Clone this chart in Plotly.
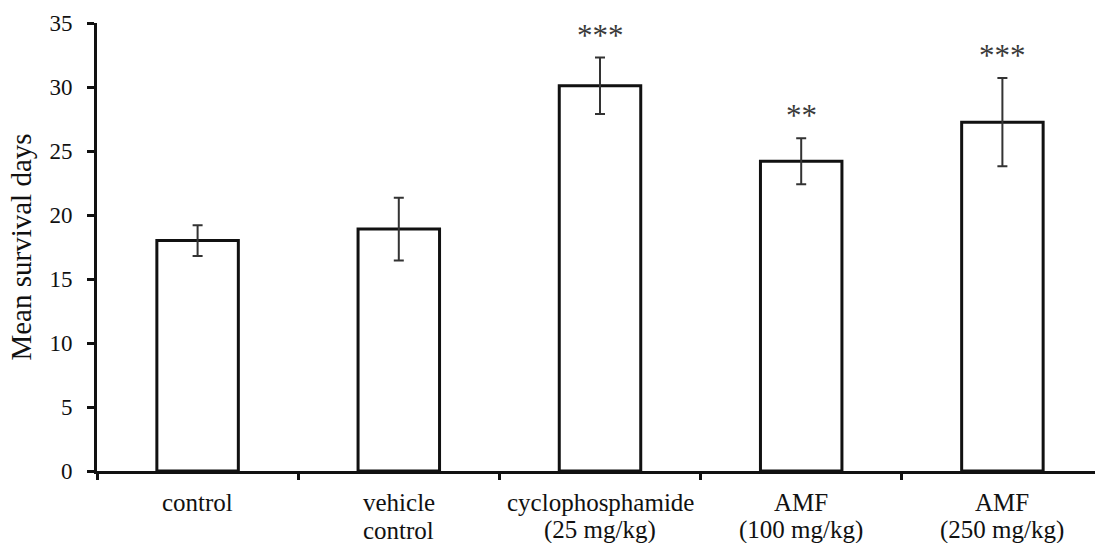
import plotly.graph_objects as go

categories = ["control", "vehicle<br>control", "cyclophosphamide<br>(25 mg/kg)",
              "AMF<br>(100 mg/kg)", "AMF<br>(250 mg/kg)"]
means = [18.0, 18.9, 30.1, 24.2, 27.25]
errors = [1.2, 2.45, 2.2, 1.8, 3.45]
stars = ["", "", "***", "**", "***"]
y_ticks = [0, 5, 10, 15, 20, 25, 30, 35]

FONT = "Liberation Serif"
W, H = 1095, 543
ML, MT, MB = 97, 23, 72

x_idx = list(range(len(categories)))

fig = go.Figure()
fig.add_trace(go.Bar(
    x=x_idx, y=means,
    width=0.405,
    marker=dict(color="white", line=dict(color="#111111", width=3)),
    error_y=dict(type="data", array=errors, visible=True,
                 color="#333333", thickness=2, width=5),
    showlegend=False,
))

# significance stars
for i, s in enumerate(stars):
    if s:
        fig.add_annotation(x=i, y=means[i] + errors[i], xref="x", yref="y",
                           text=s, showarrow=False, yanchor="bottom",
                           yshift=3, font=dict(family=FONT, size=31, color="#3a3a3a"))

# category labels (two lines with tight spacing)
for i, lab in enumerate(categories):
    lines = lab.split("<br>")
    for j, ln in enumerate(lines):
        fig.add_annotation(x=i, y=0, xref="x", yref="paper", text=ln,
                           showarrow=False, yanchor="middle",
                           yshift=-31 - 28 * j,
                           font=dict(family=FONT, size=25, color="#111111"))

fig.update_layout(
    width=W, height=H,
    margin=dict(l=ML, r=0, t=MT, b=MB),
    plot_bgcolor="white", paper_bgcolor="white",
    font=dict(family=FONT, color="#111111"),
    xaxis=dict(
        tickmode="array", tickvals=[i - 0.5 for i in x_idx] + [len(x_idx) - 0.5],
        showticklabels=False,
        range=[-0.5, (W - ML) / ((W - ML + 8) / 5) - 0.5],
        showline=True, linecolor="#111111", linewidth=3,
        ticks="outside", ticklen=6, tickwidth=3, tickcolor="#111111",
        showgrid=False, zeroline=False,
    ),
    yaxis=dict(
        range=[0, 35], tickvals=y_ticks,
        showline=True, linecolor="#111111", linewidth=3,
        ticks="outside", ticklen=7, tickwidth=3, tickcolor="#111111",
        tickfont=dict(family=FONT, size=23, color="#111111"),
        ticklabelstandoff=10,
        showgrid=False, zeroline=False,
        title=dict(text="Mean survival days", standoff=10,
                   font=dict(family=FONT, size=29, color="#111111")),
    ),
)

fig.write_html("out.html")
